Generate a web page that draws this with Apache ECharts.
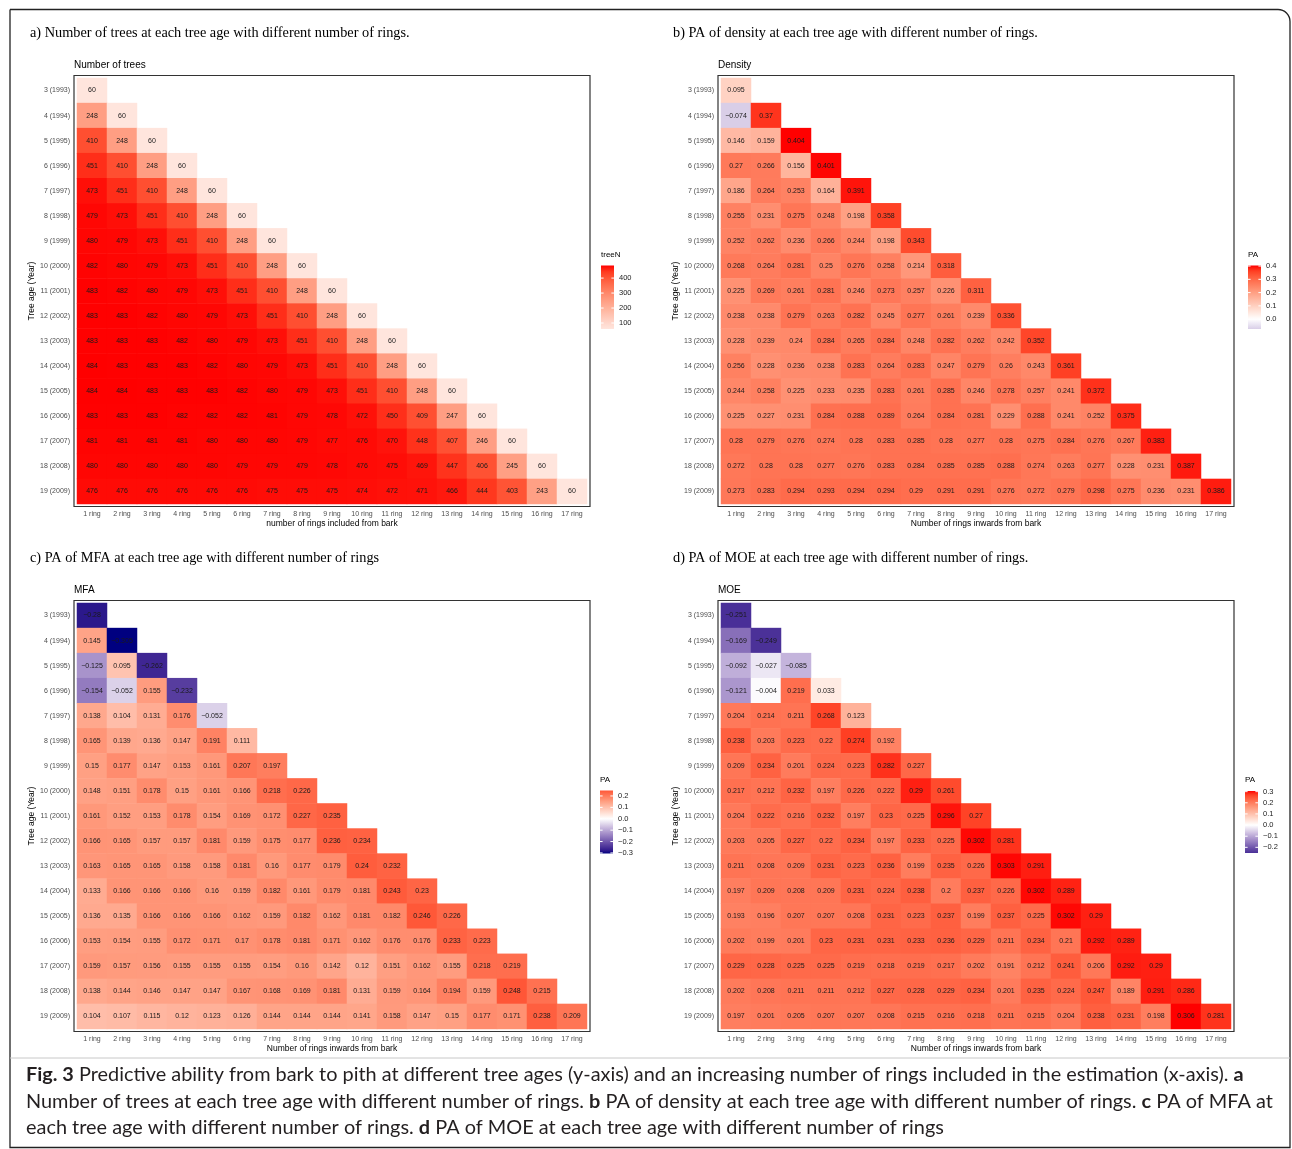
<!DOCTYPE html>
<html><head><meta charset="utf-8">
<script src="https://cdn.jsdelivr.net/npm/echarts@6/dist/echarts.min.js"></script>
<style>html,body{margin:0;padding:0;background:#fff}#c{width:1292px;height:1149px}</style>
</head><body><div id="c"></div><script>
const ageLabels = ['3 (1993)','4 (1994)','5 (1995)','6 (1996)','7 (1997)','8 (1998)','9 (1999)','10 (2000)','11 (2001)','12 (2002)','13 (2003)','14 (2004)','15 (2005)','16 (2006)','17 (2007)','18 (2008)','19 (2009)'];
const ringLabels = ['1 ring','2 ring','3 ring','4 ring','5 ring','6 ring','7 ring','8 ring','9 ring','10 ring','11 ring','12 ring','13 ring','14 ring','15 ring','16 ring','17 ring'];

const treeN = [
 [60],
 [248,60],
 [410,248,60],
 [451,410,248,60],
 [473,451,410,248,60],
 [479,473,451,410,248,60],
 [480,479,473,451,410,248,60],
 [482,480,479,473,451,410,248,60],
 [483,482,480,479,473,451,410,248,60],
 [483,483,482,480,479,473,451,410,248,60],
 [483,483,483,482,480,479,473,451,410,248,60],
 [484,483,483,483,482,480,479,473,451,410,248,60],
 [484,484,483,483,483,482,480,479,473,451,410,248,60],
 [483,483,483,482,482,482,481,479,478,472,450,409,247,60],
 [481,481,481,481,480,480,480,479,477,476,470,448,407,246,60],
 [480,480,480,480,480,479,479,479,478,476,475,469,447,406,245,60],
 [476,476,476,476,476,476,475,475,475,474,472,471,466,444,403,243,60]
];
const density = [
 [0.095],
 [-0.074,0.37],
 [0.146,0.159,0.404],
 [0.27,0.266,0.156,0.401],
 [0.186,0.264,0.253,0.164,0.391],
 [0.255,0.231,0.275,0.248,0.198,0.358],
 [0.252,0.262,0.236,0.266,0.244,0.198,0.343],
 [0.268,0.264,0.281,0.25,0.276,0.258,0.214,0.318],
 [0.225,0.269,0.261,0.281,0.246,0.273,0.257,0.226,0.311],
 [0.238,0.238,0.279,0.263,0.282,0.245,0.277,0.261,0.239,0.336],
 [0.228,0.239,0.24,0.284,0.265,0.284,0.248,0.282,0.262,0.242,0.352],
 [0.256,0.228,0.236,0.238,0.283,0.264,0.283,0.247,0.279,0.26,0.243,0.361],
 [0.244,0.258,0.225,0.233,0.235,0.283,0.261,0.285,0.246,0.278,0.257,0.241,0.372],
 [0.225,0.227,0.231,0.284,0.288,0.289,0.264,0.284,0.281,0.229,0.288,0.241,0.252,0.375],
 [0.28,0.279,0.276,0.274,0.28,0.283,0.285,0.28,0.277,0.28,0.275,0.284,0.276,0.267,0.383],
 [0.272,0.28,0.28,0.277,0.276,0.283,0.284,0.285,0.285,0.288,0.274,0.263,0.277,0.228,0.231,0.387],
 [0.273,0.283,0.294,0.293,0.294,0.294,0.29,0.291,0.291,0.276,0.272,0.279,0.298,0.275,0.236,0.231,0.386]
];
const mfa = [
 [-0.28],
 [0.145,-0.305],
 [-0.125,0.095,-0.262],
 [-0.154,-0.052,0.155,-0.232],
 [0.138,0.104,0.131,0.176,-0.052],
 [0.165,0.139,0.136,0.147,0.191,0.111],
 [0.15,0.177,0.147,0.153,0.161,0.207,0.197],
 [0.148,0.151,0.178,0.15,0.161,0.166,0.218,0.226],
 [0.161,0.152,0.153,0.178,0.154,0.169,0.172,0.227,0.235],
 [0.166,0.165,0.157,0.157,0.181,0.159,0.175,0.177,0.236,0.234],
 [0.163,0.165,0.165,0.158,0.158,0.181,0.16,0.177,0.179,0.24,0.232],
 [0.133,0.166,0.166,0.166,0.16,0.159,0.182,0.161,0.179,0.181,0.243,0.23],
 [0.136,0.135,0.166,0.166,0.166,0.162,0.159,0.182,0.162,0.181,0.182,0.246,0.226],
 [0.153,0.154,0.155,0.172,0.171,0.17,0.178,0.181,0.171,0.162,0.176,0.176,0.233,0.223],
 [0.159,0.157,0.156,0.155,0.155,0.155,0.154,0.16,0.142,0.12,0.151,0.162,0.155,0.218,0.219],
 [0.138,0.144,0.146,0.147,0.147,0.167,0.168,0.169,0.181,0.131,0.159,0.164,0.194,0.159,0.248,0.215],
 [0.104,0.107,0.115,0.12,0.123,0.126,0.144,0.144,0.144,0.141,0.158,0.147,0.15,0.177,0.171,0.238,0.209]
];
const moe = [
 [-0.251],
 [-0.169,-0.249],
 [-0.092,-0.027,-0.085],
 [-0.121,-0.004,0.219,0.033],
 [0.204,0.214,0.211,0.268,0.123],
 [0.238,0.203,0.223,0.22,0.274,0.192],
 [0.209,0.234,0.201,0.224,0.223,0.282,0.227],
 [0.217,0.212,0.232,0.197,0.226,0.222,0.29,0.261],
 [0.204,0.222,0.216,0.232,0.197,0.23,0.225,0.296,0.27],
 [0.203,0.205,0.227,0.22,0.234,0.197,0.233,0.225,0.302,0.281],
 [0.211,0.208,0.209,0.231,0.223,0.236,0.199,0.235,0.226,0.303,0.291],
 [0.197,0.209,0.208,0.209,0.231,0.224,0.238,0.2,0.237,0.226,0.302,0.289],
 [0.193,0.196,0.207,0.207,0.208,0.231,0.223,0.237,0.199,0.237,0.225,0.302,0.29],
 [0.202,0.199,0.201,0.23,0.231,0.231,0.233,0.236,0.229,0.211,0.234,0.21,0.292,0.289],
 [0.229,0.228,0.225,0.225,0.219,0.218,0.219,0.217,0.202,0.191,0.212,0.241,0.206,0.292,0.29],
 [0.202,0.208,0.211,0.211,0.212,0.227,0.228,0.229,0.234,0.201,0.235,0.224,0.247,0.189,0.291,0.286],
 [0.197,0.201,0.205,0.207,0.207,0.208,0.215,0.216,0.218,0.211,0.215,0.204,0.238,0.231,0.198,0.306,0.281]
];
const ticksTreeN = [100,200,300,400];
const ticksDensity = [0,0.1,0.2,0.3,0.4];
const ticksMFA = [-0.3,-0.2,-0.1,0,0.1,0.2];
const ticksMOE = [-0.2,-0.1,0,0.1,0.2,0.3];

const SEQ = ['#FFE5DD','#FFD6CA','#FFC6B5','#FFB6A0','#FFA58C','#FF9477','#FF8162','#FF6D4D','#FF5637','#FF3B20','#FF0000'];
const DIV = ['#000080','#351D8E','#4E349A','#664BA6','#7D64B3','#947CC0','#AA95CC','#BFAED9','#D5C9E5','#EAE4F2','#FFFFFF',
             '#FFECE5','#FFD9CC','#FFC5B3','#FFB29A','#FF9E81','#FF8869','#FF7252','#FF5A3A','#FF3E22','#FF0000'];

function hex2rgb(h){return [parseInt(h.substr(1,2),16),parseInt(h.substr(3,2),16),parseInt(h.substr(5,2),16)];}
function lerpStops(stops,t){
  t=Math.max(0,Math.min(1,t));
  const p=t*(stops.length-1), i=Math.min(Math.floor(p),stops.length-2), f=p-i;
  const a=hex2rgb(stops[i]), b=hex2rgb(stops[i+1]);
  return 'rgb('+a.map((v,k)=>Math.round(v+(b[k]-v)*f)).join(',')+')';
}
const fmtVal = v => v<0 ? '\u2212'+String(-v) : String(v);
const fmt1 = v => { const s=Math.abs(v).toFixed(1); return v<0 ? '\u2212'+s : s; };
const flat = rows => rows.reduce((a,r)=>a.concat(r),[]);

const FONT = "'Liberation Sans', Arial, sans-serif";
const SERIF = "'Liberation Serif', 'Times New Roman', serif";

const panels = [
 {rows:treeN, heading:'a) Number of trees at each tree age with different number of rings.', title:'Number of trees',
  xName:'number of rings included from bark', gx:77, gy:78, hx:30, hy:34, legTitle:'treeN', legX:601, legY:265.5, legH:63.5,
  ticks:ticksTreeN, div:false, tickFmt:v=>String(v)},
 {rows:density, heading:'b) PA of density at each tree age with different number of rings.', title:'Density',
  xName:'Number of rings inwards from bark', gx:721, gy:78, hx:673, hy:34, legTitle:'PA', legX:1248, legY:265.5, legH:63.5,
  ticks:ticksDensity, div:true, tickFmt:fmt1},
 {rows:mfa, heading:'c) PA of MFA at each tree age with different number of rings', title:'MFA',
  xName:'Number of rings inwards from bark', gx:77, gy:603, hx:30, hy:559, legTitle:'PA', legX:600, legY:790.5, legH:63,
  ticks:ticksMFA, div:true, tickFmt:fmt1},
 {rows:moe, heading:'d) PA of MOE at each tree age with different number of rings.', title:'MOE',
  xName:'Number of rings inwards from bark', gx:721, gy:603, hx:673, hy:559, legTitle:'PA', legX:1245, legY:791, legH:62,
  ticks:ticksMOE, div:true, tickFmt:fmt1}
];
const GW=510, GH=426, LW=13;

const grid=[], xAxis=[], yAxis=[], series=[], visualMap=[], graphic=[];
panels.forEach((p,i)=>{
  const vals=flat(p.rows);
  const lo=Math.min(...vals), hi=Math.max(...vals);
  let vmMin, vmMax, stops;
  if(p.div){ const M=Math.max(Math.abs(lo),Math.abs(hi)); vmMin=-M; vmMax=M; stops=DIV; }
  else { vmMin=lo; vmMax=hi; stops=SEQ; }
  const colorAt = v => lerpStops(stops,(v-vmMin)/(vmMax-vmMin));
  const data=[];
  p.rows.forEach((row,r)=>row.forEach((v,c)=>data.push([c,r,v])));

  grid.push({left:p.gx, top:p.gy, width:GW, height:GH});
  xAxis.push({type:'category', gridIndex:2*i, data:ringLabels, position:'bottom', offset:2.5,
    axisLine:{show:false}, axisTick:{alignWithLabel:true, length:3, lineStyle:{color:'#333', width:1}},
    axisLabel:{fontSize:7, color:'#4D4D4D', margin:4, fontFamily:FONT, interval:0},
    splitLine:{show:false}, name:p.xName, nameLocation:'middle', nameGap:12.5,
    nameTextStyle:{fontSize:8.5, color:'#000', fontFamily:FONT}});
  yAxis.push({type:'category', gridIndex:2*i, data:ageLabels, inverse:true, offset:3,
    axisLine:{show:false}, axisTick:{alignWithLabel:true, length:3, lineStyle:{color:'#333', width:1}},
    axisLabel:{fontSize:7, color:'#4D4D4D', margin:4, fontFamily:FONT, interval:0},
    splitLine:{show:false}, name:'Tree age (Year)', nameLocation:'middle', nameRotate:90, nameGap:36,
    nameTextStyle:{fontSize:8.5, color:'#000', fontFamily:FONT}});
  series.push({type:'heatmap', xAxisIndex:2*i, yAxisIndex:2*i, data:data,
    label:{show:true, fontSize:7, color:'#1A1A1A', fontFamily:FONT, formatter:q=>fmtVal(q.value[2])},
    itemStyle:{borderWidth:0}, emphasis:{disabled:true}});
  visualMap.push({type:'continuous', show:false, seriesIndex:series.length-1, dimension:2,
    min:vmMin, max:vmMax, inRange:{color:stops}});

  grid.push({left:p.legX, top:p.legY, width:LW, height:p.legH});
  xAxis.push({type:'value', gridIndex:2*i+1, min:0, max:1, show:false});
  yAxis.push({type:'value', gridIndex:2*i+1, min:lo, max:hi, position:'right',
    axisLine:{show:false}, axisTick:{show:false}, splitLine:{show:false},
    axisLabel:{customValues:p.ticks, formatter:p.tickFmt, fontSize:7.5, color:'#1A1A1A', margin:5, fontFamily:FONT}});
  const tks=p.ticks.slice();
  series.push({type:'custom', xAxisIndex:2*i+1, yAxisIndex:2*i+1, data:[[0,lo,hi]], silent:true,
    renderItem:(params,api)=>{
      const a=api.value(1), b=api.value(2);
      const pt=api.coord([0,b]), pb=api.coord([1,a]);
      const N=40, cs=[];
      for(let k=0;k<=N;k++){ const v=b-(b-a)*k/N; cs.push({offset:k/N, color:colorAt(v)}); }
      const children=[{type:'rect', shape:{x:pt[0], y:pt[1], width:pb[0]-pt[0], height:pb[1]-pt[1]},
        style:{fill:new echarts.graphic.LinearGradient(0,0,0,1,cs)}}];
      tks.forEach(tv=>{
        const y=api.coord([0,tv])[1];
        children.push({type:'line', shape:{x1:pt[0], y1:y, x2:pt[0]+2.6, y2:y}, style:{stroke:'#fff', lineWidth:1}});
        children.push({type:'line', shape:{x1:pb[0]-2.6, y1:y, x2:pb[0], y2:y}, style:{stroke:'#fff', lineWidth:1}});
      });
      return {type:'group', children};
    }});

  graphic.push({type:'text', left:p.hx, top:p.hy-8, style:{text:p.heading, font:'14.3px '+SERIF, fill:'#000'}});
  graphic.push({type:'text', left:p.gx-3, top:p.gy-18, style:{text:p.title, font:'10px '+FONT, fill:'#000'}});
  graphic.push({type:'text', left:p.legX, top:p.legY-15, style:{text:p.legTitle, font:'8px '+FONT, fill:'#000'}});
  graphic.push({type:'rect', shape:{x:p.gx-3, y:p.gy-2.5, width:GW+6, height:GH+5}, z:10,
    style:{fill:'none', stroke:'#333', lineWidth:1.2}});
});

graphic.push({type:'rect', shape:{x:10, y:9.5, width:1280, height:1138, r:[0,12,0,0]}, z:-1,
  style:{fill:'none', stroke:'#222', lineWidth:1.3}});
graphic.push({type:'line', shape:{x1:10, y1:1058, x2:1290, y2:1058}, style:{stroke:'#C8C8C8', lineWidth:1}});
const capLines = [
 '{b|Fig. 3} Predictive ability from bark to pith at different tree ages (y-axis) and an increasing number of rings included in the estimation (x-axis). {b|a}',
 'Number of trees at each tree age with different number of rings. {b|b} PA of density at each tree age with different number of rings. {b|c} PA of MFA at',
 'each tree age with different number of rings. {b|d} PA of MOE at each tree age with different number of rings'
];
capLines.forEach((t,k)=>{
  graphic.push({type:'text', left:26, top:1065+k*26.5, style:{text:t, fontFamily:'Lato', fontSize:19.9, fill:'#231F20',
    rich:{b:{fontFamily:'Lato', fontSize:19.9, fontWeight:'bold', fill:'#231F20'}}}});
});

const chart=echarts.init(document.getElementById('c'),null,{renderer:'canvas'});
chart.setOption({animation:false, backgroundColor:'#fff', grid, xAxis, yAxis, series, visualMap, graphic});
</script></body></html>
